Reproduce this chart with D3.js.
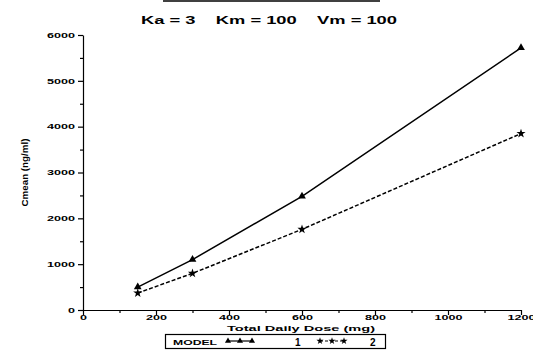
<!DOCTYPE html>
<meta charset="utf-8">
<style>
body { margin: 0; background: #fff; }
text { font-family: Arial, "Liberation Sans", sans-serif; font-weight: bold; fill: #000; }
.axis path, .axis line { stroke: #000; stroke-width: 1.2; }
</style>
<body>
<script src="https://cdn.jsdelivr.net/npm/d3@7"></script>
<script>
// dose values (mg)
var doses = [150, 300, 600, 1200];
// mean concentration per model
var model1 = [500, 1100, 2480, 5720];
var model2 = [370, 800, 1760, 3850];
var xTicks = [0, 200, 400, 600, 800, 1000, 1200];
var yTicks = [0, 1000, 2000, 3000, 4000, 5000, 6000];

var width = 533, height = 351;
var margin = {top: 35, right: 12, bottom: 41, left: 83};

var svg = d3.select('body').append('svg')
  .attr('width', width)
  .attr('height', height);

var x = d3.scaleLinear().domain([0, 1200]).range([margin.left, width - margin.right]);
var y = d3.scaleLinear().domain([0, 6000]).range([height - margin.bottom, margin.top]);

// the old plotter font is very wide, so stretch text to a given width
function wide(sel, perChar) {
  sel.each(function() {
    var t = d3.select(this);
    t.attr('textLength', t.text().length * perChar).attr('lengthAdjust', 'spacingAndGlyphs');
  });
}

// top border remnant
svg.append('line')
  .attr('x1', 163).attr('x2', 380).attr('y1', 1).attr('y2', 1)
  .attr('stroke', '#000').attr('stroke-width', 1.5);

// subtitle
svg.append('text')
  .attr('x', 269).attr('y', 24)
  .attr('text-anchor', 'middle')
  .style('font-size', '10px')
  .attr('xml:space', 'preserve')
  .attr('textLength', 256).attr('lengthAdjust', 'spacingAndGlyphs')
  .text('Ka = 3    Km = 100    Vm = 100');

// minor ticks
svg.append('g').attr('class', 'axis')
  .attr('transform', 'translate(' + margin.left + ',0)')
  .call(d3.axisLeft(y).tickValues(d3.range(500, 6000, 1000)).tickSize(3).tickFormat(''))
  .select('.domain').remove();
svg.append('g').attr('class', 'axis')
  .attr('transform', 'translate(0,' + y(0) + ')')
  .call(d3.axisBottom(x).tickValues(d3.range(100, 1200, 200)).tickSize(3).tickFormat(''))
  .select('.domain').remove();

var yAxis = svg.append('g').attr('class', 'axis')
  .attr('transform', 'translate(' + margin.left + ',0)')
  .call(d3.axisLeft(y).tickValues(yTicks).tickSize(5).tickSizeOuter(0).tickFormat(d3.format('d')));
yAxis.selectAll('text').style('font-size', '7px').attr('x', -8).call(wide, 7);

var xAxis = svg.append('g').attr('class', 'axis')
  .attr('transform', 'translate(0,' + y(0) + ')')
  .call(d3.axisBottom(x).tickValues(xTicks).tickSize(5).tickSizeOuter(0).tickFormat(d3.format('d')));
xAxis.selectAll('text').style('font-size', '7px').attr('y', 5).attr('dy', '0.75em').call(wide, 7);

// axis titles
svg.append('text')
  .attr('x', 301).attr('y', 331)
  .attr('text-anchor', 'middle')
  .style('font-size', '8px')
  .attr('textLength', 148).attr('lengthAdjust', 'spacingAndGlyphs')
  .text('Total Daily Dose (mg)');

svg.append('text')
  .attr('transform', 'translate(28,' + y(3000) + ') rotate(-90)')
  .attr('text-anchor', 'middle')
  .style('font-size', '9px')
  .attr('textLength', 68).attr('lengthAdjust', 'spacingAndGlyphs')
  .text('Cmean (ng/ml)');

// lines
var line = d3.line()
  .x(function(d) { return x(d[0]); })
  .y(function(d) { return y(d[1]); });

var series = [
  {values: model1, dash: null, sym: d3.symbolTriangle},
  {values: model2, dash: '4,2', sym: d3.symbolStar}
];

series.forEach(function(s) {
  var pts = doses.map(function(d, i) { return [d, s.values[i]]; });
  svg.append('path')
    .datum(pts)
    .attr('fill', 'none')
    .attr('stroke', '#000')
    .attr('stroke-width', 1.5)
    .attr('stroke-dasharray', s.dash)
    .attr('d', line);
  svg.selectAll(null)
    .data(pts)
    .enter().append('path')
    .attr('transform', function(d) { return 'translate(' + x(d[0]) + ',' + y(d[1]) + ')'; })
    .attr('d', d3.symbol().type(s.sym).size(26))
    .attr('fill', '#000');
});

// legend box
var lg = svg.append('g');
lg.append('rect')
  .attr('x', 165.5).attr('y', 334.5).attr('width', 220).attr('height', 14)
  .attr('fill', 'none').attr('stroke', '#000').attr('stroke-width', 1.2);
lg.append('text').attr('x', 173).attr('y', 345).style('font-size', '8px')
  .attr('textLength', 44).attr('lengthAdjust', 'spacingAndGlyphs').text('MODEL');
[{x0: 228, sym: d3.symbolTriangle, dash: null, label: '1', lx: 295},
 {x0: 320, sym: d3.symbolStar, dash: '3,2', label: '2', lx: 370}].forEach(function(e) {
  lg.append('line')
    .attr('x1', e.x0).attr('x2', e.x0 + 24).attr('y1', 341).attr('y2', 341)
    .attr('stroke', '#000').attr('stroke-width', 1.2).attr('stroke-dasharray', e.dash);
  [0, 12, 24].forEach(function(o) {
    lg.append('path')
      .attr('transform', 'translate(' + (e.x0 + o) + ',341)')
      .attr('d', d3.symbol().type(e.sym).size(16))
      .attr('fill', '#000');
  });
  lg.append('text').attr('x', e.lx).attr('y', 346).style('font-size', '10px').text(e.label);
});
</script>
</body>
